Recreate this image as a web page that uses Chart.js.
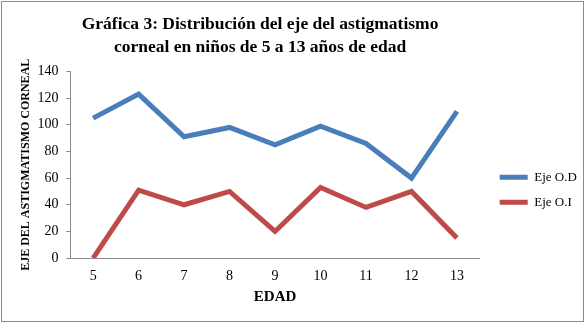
<!DOCTYPE html>
<html>
<head>
<meta charset="utf-8">
<script src="https://cdn.jsdelivr.net/npm/chart.js@4"></script>
<style>
  body { margin: 0; background: #fff; }
  #box { position: absolute; left: 1px; top: 1px; width: 581px; height: 319px; border: 1px solid #8a8a8a; }
</style>
</head>
<body>
<div id="box"><canvas id="grafica" width="581" height="319"></canvas></div>
<script>
const edades = ['5', '6', '7', '8', '9', '10', '11', '12', '13']
const ejeOD = [105, 123, 91, 98, 85, 99, 86, 60, 110]
const ejeOI = [0, 51, 40, 50, 20, 53, 38, 50, 15]

const serif = "'Liberation Serif', 'DejaVu Serif', serif"

// nudge title and legend to where Excel put them
const ajustes = {
  id: 'ajustes',
  afterLayout(chart) {
    const t = chart.titleBlock
    t.left -= 15
    t.right -= 15
    const lg = chart.legend
    lg.left += 8
    lg.right += 8
    lg.top += 31
    lg.bottom += 31
  }
}

var ctx = document.getElementById('grafica').getContext('2d')
var chart = new Chart(ctx, {
  type: 'line',
  data: {
    labels: edades,
    datasets: [
      {
        label: 'Eje O.D',
        data: ejeOD,
        borderColor: '#4a7ebb',
        backgroundColor: '#4a7ebb',
        borderWidth: 5,
        pointRadius: 0,
        pointStyle: 'line',
        tension: 0
      },
      {
        label: 'Eje O.I',
        data: ejeOI,
        borderColor: '#be4b48',
        backgroundColor: '#be4b48',
        borderWidth: 5,
        pointRadius: 0,
        pointStyle: 'line',
        tension: 0
      }
    ]
  },
  plugins: [ajustes],
  options: {
    responsive: false,
    animation: false,
    layout: { padding: { left: 12.6, right: 4.2, top: 6, bottom: 11.3 } },
    plugins: {
      title: {
        display: true,
        fullSize: false,
        text: ['Gráfica 3: Distribución del eje del astigmatismo', 'corneal en niños de 5 a 13 años de edad'],
        color: '#000',
        font: { family: serif, size: 17.5, weight: 'bold', lineHeight: 1.37 },
        padding: { top: 4, bottom: 11.5 }
      },
      legend: {
        position: 'right',
        align: 'center',
        labels: {
          usePointStyle: true,
          pointStyleWidth: 28,
          boxHeight: 8,
          color: '#000',
          padding: 12,
          font: { family: serif, size: 13 }
        }
      },
      tooltip: { enabled: false }
    },
    scales: {
      x: {
        offset: true,
        afterFit: (s) => { s.height -= 6 },
        grid: { drawOnChartArea: false, drawTicks: false },
        border: { color: '#8a8a8a' },
        ticks: { color: '#000', padding: 9.4, font: { family: serif, size: 14 } },
        title: {
          display: true,
          text: 'EDAD',
          color: '#000',
          font: { family: serif, size: 15, weight: 'bold' },
          padding: { top: 0, bottom: 4 }
        }
      },
      y: {
        min: 0,
        max: 140,
        afterFit: (s) => { s.width -= 4 },
        ticks: { stepSize: 20, color: '#000', padding: 8, font: { family: serif, size: 14 } },
        grid: { drawOnChartArea: false, tickLength: 4, color: '#8a8a8a' },
        border: { color: '#8a8a8a' },
        title: {
          display: true,
          text: 'EJE DEL ASTIGMATISMO CORNEAL',
          color: '#000',
          font: { family: serif, size: 12, weight: 'bold' },
          padding: { top: 4.4, bottom: 0 }
        }
      }
    }
  }
})
</script>
</body>
</html>
